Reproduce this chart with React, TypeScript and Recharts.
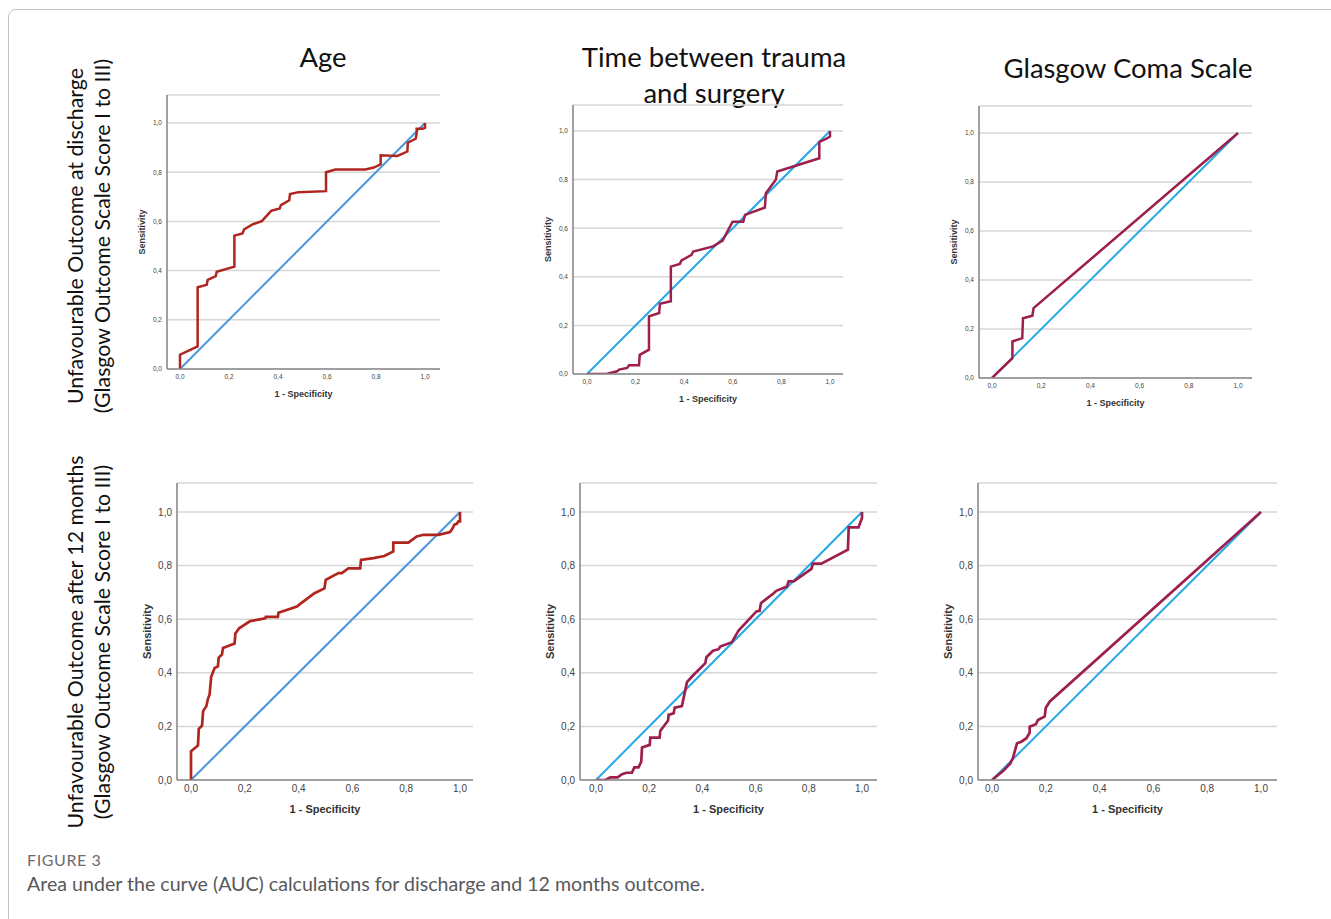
import { LineChart, Line, XAxis, YAxis, CartesianGrid } from "recharts";

// ROC curves: [1 - specificity, sensitivity]
const ageDischarge: [number, number][] = [
  [0, 0], [0, 0.058], [0.072, 0.092], [0.072, 0.332], [0.109, 0.342], [0.113, 0.362],
  [0.146, 0.378], [0.15, 0.395], [0.222, 0.416], [0.222, 0.542], [0.255, 0.551],
  [0.262, 0.568], [0.296, 0.588], [0.334, 0.601], [0.372, 0.643], [0.407, 0.653],
  [0.412, 0.666], [0.446, 0.686], [0.449, 0.711], [0.484, 0.719], [0.596, 0.723],
  [0.596, 0.8], [0.634, 0.811], [0.757, 0.811], [0.791, 0.819], [0.819, 0.832],
  [0.819, 0.869], [0.887, 0.866], [0.928, 0.884], [0.93, 0.92], [0.962, 0.936],
  [0.966, 0.957], [0.966, 0.977], [0.989, 0.977], [1, 0.98], [1, 1],
];

const timeDischarge: [number, number][] = [
  [0, 0], [0.08, 0], [0.124, 0.011], [0.132, 0.018], [0.165, 0.025], [0.173, 0.036],
  [0.214, 0.036], [0.217, 0.079], [0.255, 0.1], [0.255, 0.237], [0.297, 0.251],
  [0.3, 0.289], [0.345, 0.299], [0.345, 0.442], [0.382, 0.453], [0.389, 0.467],
  [0.43, 0.49], [0.437, 0.504], [0.519, 0.525], [0.558, 0.549], [0.599, 0.627],
  [0.643, 0.627], [0.65, 0.655], [0.732, 0.685], [0.736, 0.744], [0.777, 0.799],
  [0.783, 0.833], [0.956, 0.888], [0.956, 0.955], [0.984, 0.968], [1, 0.977], [1, 1],
];

const gcsDischarge: [number, number][] = [
  [0, 0], [0.083, 0.081], [0.083, 0.149], [0.123, 0.163], [0.126, 0.244],
  [0.164, 0.254], [0.169, 0.285], [1, 1],
];

const age12m: [number, number][] = [
  [0, 0], [0, 0.107], [0.026, 0.129], [0.029, 0.191], [0.041, 0.203], [0.045, 0.257],
  [0.057, 0.275], [0.063, 0.303], [0.069, 0.318], [0.075, 0.385], [0.088, 0.418],
  [0.1, 0.424], [0.103, 0.457], [0.115, 0.468], [0.119, 0.493], [0.162, 0.509],
  [0.165, 0.547], [0.179, 0.566], [0.22, 0.593], [0.276, 0.603], [0.278, 0.609],
  [0.323, 0.609], [0.325, 0.624], [0.394, 0.647], [0.406, 0.657], [0.459, 0.697],
  [0.496, 0.715], [0.501, 0.747], [0.548, 0.772], [0.561, 0.772], [0.585, 0.79],
  [0.629, 0.79], [0.632, 0.821], [0.678, 0.828], [0.719, 0.836], [0.752, 0.853],
  [0.752, 0.886], [0.808, 0.886], [0.839, 0.909], [0.864, 0.915], [0.92, 0.915],
  [0.963, 0.925], [0.973, 0.94], [0.979, 0.953], [0.988, 0.956], [0.994, 0.965],
  [1, 0.965], [1, 1],
];

const time12m: [number, number][] = [
  [0, 0], [0.035, 0], [0.054, 0.01], [0.081, 0.01], [0.098, 0.022], [0.114, 0.027],
  [0.135, 0.027], [0.144, 0.047], [0.16, 0.047], [0.17, 0.068], [0.173, 0.121],
  [0.202, 0.131], [0.204, 0.158], [0.239, 0.158], [0.242, 0.184], [0.271, 0.222],
  [0.273, 0.243], [0.292, 0.249], [0.296, 0.27], [0.323, 0.276], [0.342, 0.365],
  [0.361, 0.386], [0.411, 0.436], [0.415, 0.458], [0.44, 0.482], [0.461, 0.488],
  [0.467, 0.498], [0.511, 0.514], [0.536, 0.558], [0.603, 0.629], [0.615, 0.631],
  [0.62, 0.66], [0.668, 0.697], [0.678, 0.706], [0.718, 0.722], [0.724, 0.741],
  [0.743, 0.741], [0.81, 0.788], [0.815, 0.807], [0.847, 0.807], [0.947, 0.859],
  [0.95, 0.943], [0.987, 0.943], [1, 0.978], [1, 1],
];

const gcs12m: [number, number][] = [
  [0, 0], [0.043, 0.035], [0.068, 0.062], [0.078, 0.083], [0.093, 0.137],
  [0.109, 0.143], [0.128, 0.156], [0.14, 0.177], [0.14, 0.199], [0.163, 0.208],
  [0.171, 0.224], [0.196, 0.237], [0.2, 0.27], [0.215, 0.293], [1, 1],
];

const chanceLine: [number, number][] = [[0, 0], [1, 1]];

const axisTicks = [0, 0.2, 0.4, 0.6, 0.8, 1];

const columnTitles = [["Age"], ["Time between trauma", "and surgery"], ["Glasgow Coma Scale"]];
const rowTitles = [
  ["Unfavourable Outcome at discharge", "(Glasgow Outcome Scale Score I to III)"],
  ["Unfavourable Outcome after 12 months", "(Glasgow Outcome Scale Score I to III)"],
];

const toPoints = (arr: [number, number][]) => arr.map(([x, y]) => ({ x, y }));
const fmt = (v: number) => v.toFixed(1).replace(".", ",");

interface Box {
  left: number; top: number; right: number; bottom: number;
  x0: number; x1: number; y1: number;
}

interface PanelProps {
  box: Box;
  curve: [number, number][];
  curveColor: string;
  diagColor: string;
  big: boolean;
}

function RocPanel({ box, curve, curveColor, diagColor, big }: PanelProps) {
  const W = 40;
  const H = 40;
  const mt = 4;
  const mr = 4;
  const plotW = box.right - box.left;
  const plotH = box.bottom - box.top;
  const ux = box.x1 - box.x0;
  const xDomain = [(box.left - box.x0) / ux, (box.right - box.x0) / ux];
  const yMax = plotH / (box.bottom - box.y1);
  const tickFont = big ? 10 : 6.5;
  const labelFont = big ? 11 : 9;
  const font = "'Liberation Sans', Arial, sans-serif";

  return (
    <div style={{ position: "absolute", left: box.left - W, top: box.top - mt }}>
      <LineChart
        width={W + plotW + mr}
        height={mt + plotH + H}
        margin={{ top: mt, right: mr, bottom: 0, left: 0 }}
      >
        <CartesianGrid vertical={false} stroke="#d6d6d6" strokeWidth={1.5} />
        <XAxis
          type="number"
          dataKey="x"
          domain={xDomain}
          allowDataOverflow
          ticks={axisTicks}
          interval={0}
          tickFormatter={fmt}
          tickLine={false}
          tickSize={0}
          tickMargin={big ? 4.5 : 5}
          height={H}
          stroke="#8a8a8a"
          strokeWidth={1.6}
          tick={{ fontSize: tickFont, fill: "#444", fontFamily: font }}
          label={{
            value: "1 - Specificity",
            position: "insideBottom",
            offset: big ? 7 : 12,
            style: { fontSize: labelFont, fontWeight: 700, fill: "#333", fontFamily: font },
          }}
        />
        <YAxis
          type="number"
          dataKey="y"
          domain={[0, yMax]}
          allowDataOverflow
          ticks={axisTicks}
          interval={0}
          tickFormatter={fmt}
          tickLine={false}
          tickSize={0}
          tickMargin={5}
          width={W}
          stroke="#8a8a8a"
          strokeWidth={1.6}
          tick={{ fontSize: tickFont, fill: "#444", fontFamily: font }}
          label={{
            value: "Sensitivity",
            angle: -90,
            position: "insideLeft",
            offset: big ? 10 : 15,
            style: {
              fontSize: labelFont,
              fontWeight: 700,
              fill: "#333",
              fontFamily: font,
              textAnchor: "middle",
            },
          }}
        />
        <Line
          data={toPoints(chanceLine)}
          dataKey="y"
          type="linear"
          stroke={diagColor}
          strokeWidth={2}
          dot={false}
          isAnimationActive={false}
        />
        <Line
          data={toPoints(curve)}
          dataKey="y"
          type="linear"
          stroke={curveColor}
          strokeWidth={big ? 2.7 : 2.5}
          dot={false}
          isAnimationActive={false}
        />
      </LineChart>
    </div>
  );
}

const ageRed = "#b0261f";
const roseRed = "#9c1f4d";
const steelBlue = "#4a95de";
const skyBlue = "#24a9e6";

const panels: PanelProps[] = [
  { box: { left: 167, top: 95, right: 440, bottom: 369, x0: 180, x1: 425, y1: 123 }, curve: ageDischarge, curveColor: ageRed, diagColor: steelBlue, big: false },
  { box: { left: 573, top: 105, right: 843, bottom: 374, x0: 587, x1: 830, y1: 131 }, curve: timeDischarge, curveColor: roseRed, diagColor: skyBlue, big: false },
  { box: { left: 979, top: 106, right: 1252, bottom: 378, x0: 992, x1: 1238, y1: 133 }, curve: gcsDischarge, curveColor: roseRed, diagColor: skyBlue, big: false },
  { box: { left: 177, top: 483, right: 473, bottom: 780, x0: 191, x1: 460, y1: 512 }, curve: age12m, curveColor: ageRed, diagColor: steelBlue, big: true },
  { box: { left: 580, top: 483, right: 877, bottom: 780, x0: 596, x1: 862, y1: 512 }, curve: time12m, curveColor: roseRed, diagColor: skyBlue, big: true },
  { box: { left: 978, top: 483, right: 1277, bottom: 780, x0: 992, x1: 1261, y1: 512 }, curve: gcs12m, curveColor: roseRed, diagColor: skyBlue, big: true },
];

const titleCenters = [
  { x: 323, y: 57 },
  { x: 714, y: 57 },
  { x: 1128, y: 68 },
];
const rowCenters = [236, 642];

export default function App() {
  const titleFont = "Lato, 'Open Sans', sans-serif";
  return (
    <div
      style={{
        position: "absolute",
        left: 0,
        top: 0,
        width: 1331,
        height: 919,
        overflow: "hidden",
        background: "#fff",
      }}
    >
      <div
        style={{
          position: "absolute",
          left: 8,
          top: 9,
          width: 1340,
          height: 940,
          border: "1.5px solid #c4c4c4",
          borderRadius: 8,
        }}
      />
      {columnTitles.map((lines, i) => (
        <div
          key={i}
          style={{
            position: "absolute",
            left: titleCenters[i].x - 200,
            top: titleCenters[i].y - 18,
            width: 400,
            textAlign: "center",
            fontFamily: titleFont,
            fontSize: 27.5,
            lineHeight: "36px",
            color: "#111",
          }}
        >
          {lines.map((l) => (
            <div key={l}>{l}</div>
          ))}
        </div>
      ))}
      {rowTitles.map((lines, i) => (
        <div
          key={i}
          style={{
            position: "absolute",
            left: 89 - 250,
            top: rowCenters[i] - 27,
            width: 500,
            height: 54,
            transform: "rotate(-90deg)",
            transformOrigin: "250px 27px",
            textAlign: "center",
            fontFamily: titleFont,
            fontSize: 21.3,
            lineHeight: "27px",
            color: "#111",
            whiteSpace: "nowrap",
          }}
        >
          {lines.map((l) => (
            <div key={l}>{l}</div>
          ))}
        </div>
      ))}
      {panels.map((p, i) => (
        <RocPanel key={i} {...p} />
      ))}
      <div
        style={{
          position: "absolute",
          left: 27,
          top: 850,
          fontFamily: titleFont,
          fontSize: 16,
          color: "#6b6c6e",
          letterSpacing: 0.6,
        }}
      >
        FIGURE 3
      </div>
      <div
        style={{
          position: "absolute",
          left: 27,
          top: 872,
          fontFamily: titleFont,
          fontSize: 19.6,
          color: "#58595b",
        }}
      >
        Area under the curve (AUC) calculations for discharge and 12 months outcome.
      </div>
    </div>
  );
}
